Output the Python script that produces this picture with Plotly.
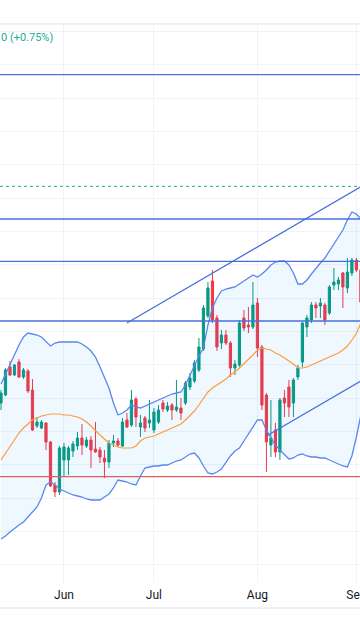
import plotly.graph_objects as go
import pandas as pd

# ---------------- data ----------------
dates = pd.bdate_range("2024-05-14", "2024-09-03").strftime("%Y-%m-%d").tolist()

opens = [2398.5, 2400.9, 2409.3, 2406.9, 2410.8, 2406.3, 2408.1, 2402.4, 2391.6, 2391.0, 2392.5, 2386.8, 2373.9, 2371.8,
         2381.4, 2381.4, 2384.1, 2385.6, 2388.0, 2385.6, 2387.4, 2384.7, 2384.4, 2382.0,
         2380.8, 2386.5, 2387.1, 2385.6, 2393.4, 2391.9, 2399.7, 2391.3, 2394.0, 2392.5,
         2390.4, 2392.8, 2398.5, 2396.4, 2397.9, 2396.4, 2397.0, 2398.5, 2403.3, 2405.1,
         2408.4, 2414.7, 2424.6, 2435.1, 2424.0, 2416.5, 2418.9, 2416.5, 2409.0, 2409.9,
         2424.0, 2421.9, 2421.3, 2428.5, 2415.3, 2400.9, 2385.9, 2390.4, 2383.8, 2400.0,
         2403.3, 2398.5, 2406.3, 2410.8, 2421.3, 2423.4, 2427.9, 2427.6, 2427.9, 2425.5,
         2433.9, 2434.2, 2437.5, 2433.0, 2437.5, 2441.4, 2438.4]
highs = [2402.4, 2409.0, 2411.1, 2410.2, 2411.7, 2409.0, 2408.7, 2405.7, 2394.3, 2393.4, 2392.8, 2387.1, 2374.8, 2385.6,
         2386.5, 2385.6, 2387.1, 2389.8, 2392.2, 2388.3, 2388.6, 2392.8, 2385.3, 2384.4,
         2387.4, 2388.9, 2388.0, 2394.0, 2395.5, 2402.4, 2400.3, 2394.9, 2394.6, 2399.4,
         2397.0, 2397.9, 2399.4, 2398.8, 2398.5, 2405.4, 2400.0, 2405.1, 2407.5, 2411.4,
         2418.0, 2427.9, 2434.8, 2438.4, 2424.9, 2420.4, 2420.4, 2417.1, 2411.4, 2423.4,
         2426.4, 2427.3, 2434.8, 2430.0, 2415.9, 2401.5, 2399.4, 2392.5, 2400.0, 2402.4,
         2405.4, 2406.0, 2409.9, 2422.8, 2424.9, 2428.8, 2428.8, 2430.0, 2428.5, 2433.9,
         2439.0, 2436.3, 2437.8, 2442.0, 2442.0, 2442.0, 2439.0]
lows = [2396.4, 2400.6, 2406.6, 2406.6, 2406.0, 2405.7, 2401.5, 2390.1, 2391.0, 2390.7, 2384.4, 2373.3, 2370.3, 2370.9,
        2376.3, 2376.9, 2382.3, 2384.4, 2382.9, 2385.0, 2379.0, 2383.5, 2380.5, 2376.0,
        2379.0, 2385.3, 2385.3, 2385.3, 2391.0, 2391.3, 2391.3, 2388.3, 2389.8, 2391.0,
        2389.5, 2392.2, 2395.8, 2395.8, 2393.4, 2395.8, 2393.4, 2397.9, 2402.4, 2404.5,
        2407.8, 2414.1, 2424.0, 2422.5, 2414.1, 2414.7, 2415.9, 2406.3, 2406.9, 2409.3,
        2420.1, 2419.5, 2420.7, 2412.3, 2396.4, 2377.8, 2382.3, 2382.3, 2381.4, 2394.3,
        2394.3, 2394.3, 2405.4, 2409.3, 2418.3, 2422.5, 2424.0, 2424.0, 2421.9, 2424.9,
        2432.4, 2432.4, 2427.0, 2431.5, 2436.6, 2437.8, 2427.9]
closes = [2401.5, 2408.4, 2406.9, 2409.9, 2406.3, 2408.4, 2402.1, 2390.4, 2392.8, 2392.8, 2386.8, 2373.6, 2371.8, 2385.0,
          2385.3, 2385.0, 2386.2, 2388.0, 2385.9, 2387.4, 2384.4, 2383.8, 2382.3, 2380.8,
          2386.5, 2387.1, 2385.9, 2392.8, 2391.3, 2399.4, 2394.3, 2392.5, 2391.0, 2393.4,
          2395.8, 2396.4, 2396.7, 2397.6, 2396.4, 2397.3, 2395.5, 2404.5, 2406.0, 2410.5,
          2415.3, 2427.0, 2433.0, 2423.4, 2415.3, 2418.9, 2416.5, 2409.0, 2410.2, 2422.5,
          2421.0, 2421.3, 2427.9, 2415.0, 2397.9, 2386.8, 2388.0, 2383.8, 2399.4, 2398.5,
          2397.3, 2405.4, 2409.0, 2422.5, 2424.0, 2427.9, 2427.0, 2428.5, 2423.4, 2433.3,
          2434.8, 2435.4, 2433.3, 2437.8, 2441.4, 2438.4, 2428.8]

bb_upper = [2404.2, 2407.2, 2409.9, 2412.9, 2415.9, 2418.3, 2419.5, 2419.2, 2418.9, 2418.3, 2416.8, 2415.6, 2416.5, 2416.8,
            2416.8, 2416.8, 2416.8, 2416.8, 2416.2, 2415.3, 2414.1, 2412.3, 2409.3, 2406.3,
            2403.0, 2398.5, 2394.9, 2395.5, 2396.4, 2397.9, 2397.3, 2397.0, 2397.6, 2398.2,
            2398.8, 2399.4, 2400.0, 2400.6, 2401.2, 2401.5, 2401.8, 2403.9, 2406.9, 2409.9,
            2412.6, 2415.0, 2421.9, 2427.0, 2430.0, 2432.1, 2432.7, 2433.0, 2433.3, 2434.2,
            2435.1, 2436.0, 2436.9, 2436.3, 2437.2, 2438.4, 2439.9, 2440.8, 2441.1, 2441.1,
            2439.9, 2437.5, 2434.2, 2434.2, 2435.4, 2437.2, 2439.0, 2440.5, 2442.0, 2444.1,
            2446.2, 2448.3, 2450.4, 2453.4, 2455.8, 2455.2, 2453.7]
bb_lower = [2357.7, 2358.6, 2359.8, 2361.0, 2361.9, 2362.8, 2364.3, 2365.5, 2367.3, 2370.0, 2373.9, 2374.8, 2373.9, 2372.7,
            2372.1, 2371.5, 2370.9, 2370.6, 2370.3, 2369.7, 2369.4, 2369.4, 2369.4, 2370.3,
            2371.2, 2373.0, 2375.4, 2375.1, 2374.8, 2374.2, 2373.9, 2376.6, 2379.0, 2379.3,
            2379.6, 2379.6, 2379.9, 2379.9, 2380.5, 2381.1, 2381.4, 2382.3, 2383.2, 2383.5,
            2382.0, 2379.6, 2377.5, 2377.2, 2377.8, 2378.7, 2380.8, 2382.6, 2384.1, 2385.0,
            2387.1, 2389.2, 2391.6, 2393.4, 2393.4, 2390.4, 2388.0, 2385.9, 2384.4, 2382.9,
            2381.7, 2382.0, 2382.9, 2383.2, 2382.6, 2382.3, 2382.3, 2382.0, 2382.0, 2381.4,
            2380.8, 2380.2, 2379.6, 2379.3, 2382.6, 2388.3, 2394.9]
bb_basis = [2381.4, 2383.5, 2385.6, 2387.7, 2389.5, 2391.0, 2392.2, 2393.4, 2394.0, 2394.6, 2394.9, 2395.2, 2395.2, 2395.2,
            2394.9, 2394.9, 2394.6, 2394.3, 2393.7, 2392.8, 2391.6, 2390.4, 2388.9, 2387.7,
            2386.5, 2385.9, 2385.3, 2385.0, 2385.0, 2385.0, 2385.6, 2387.1, 2388.0, 2388.3,
            2388.6, 2389.2, 2389.8, 2390.4, 2391.0, 2391.6, 2392.2, 2393.4, 2394.6, 2396.1,
            2397.9, 2400.0, 2401.8, 2403.0, 2403.9, 2404.8, 2405.7, 2406.9, 2407.8, 2409.0,
            2410.2, 2411.4, 2412.9, 2414.4, 2415.0, 2414.7, 2414.4, 2413.5, 2412.9, 2412.0,
            2411.1, 2410.2, 2409.0, 2409.0, 2409.3, 2409.9, 2410.5, 2411.1, 2411.7, 2412.3,
            2412.9, 2413.5, 2414.4, 2415.6, 2417.4, 2419.4, 2422.5]

month_ticks = ["2024-06-03", "2024-07-01", "2024-08-01", "2024-09-02"]
month_labels = ["Jun", "Jul", "Aug", "Sep"]

blue_levels = [2497.0, 2453.7, 2441.0, 2423.1]
red_level = 2376.4
dotted_level = 2463.5

channel_top_dates = ["2024-06-21", "2024-09-03"]
channel_top_prices = [2422.5, 2463.4]
channel_bottom_dates = ["2024-08-05", "2024-09-03"]
channel_bottom_prices = [2388.6, 2405.1]

header_text = "0 (+0.75%)"

# ---------------- figure ----------------
pos = {d: k for k, d in enumerate(dates)}
x = list(range(len(dates)))

GREEN = "#089981"
RED = "#f23645"
BAND = "#5b86f0"
LEVEL = "#4a6fdc"

fig = go.Figure()
fig.add_trace(go.Scatter(x=x, y=bb_lower, mode="lines", line=dict(color=BAND, width=1.3),
                         hoverinfo="skip", showlegend=False))
fig.add_trace(go.Scatter(x=x, y=bb_upper, mode="lines", line=dict(color=BAND, width=1.3),
                         fill="tonexty", fillcolor="rgba(33,150,243,0.07)",
                         hoverinfo="skip", showlegend=False))
fig.add_trace(go.Scatter(x=x, y=bb_basis, mode="lines", line=dict(color="#ff9a3c", width=1.2),
                         hoverinfo="skip", showlegend=False))
fig.add_trace(go.Candlestick(
    x=x, open=opens, high=highs, low=lows, close=closes,
    increasing=dict(line=dict(color=GREEN, width=1), fillcolor=GREEN),
    decreasing=dict(line=dict(color=RED, width=1), fillcolor=RED),
    whiskerwidth=0, hoverinfo="skip", showlegend=False))

shapes = []
for lv in blue_levels:
    shapes.append(dict(type="line", xref="paper", x0=0, x1=1, yref="y", y0=lv, y1=lv,
                       line=dict(color=LEVEL, width=1.3)))
shapes.append(dict(type="line", xref="paper", x0=0, x1=1, yref="y", y0=red_level, y1=red_level,
                   line=dict(color="#d9605f", width=1.3)))
shapes.append(dict(type="line", xref="paper", x0=0, x1=1, yref="y", y0=dotted_level, y1=dotted_level,
                   line=dict(color="#26a69a", width=1, dash="dot")))
shapes.append(dict(type="line", xref="x", yref="y",
                   x0=pos[channel_top_dates[0]], x1=pos[channel_top_dates[1]],
                   y0=channel_top_prices[0], y1=channel_top_prices[1],
                   line=dict(color=LEVEL, width=1.3)))
shapes.append(dict(type="line", xref="x", yref="y",
                   x0=pos[channel_bottom_dates[0]], x1=pos[channel_bottom_dates[1]],
                   y0=channel_bottom_prices[0], y1=channel_bottom_prices[1],
                   line=dict(color=LEVEL, width=1.3)))
# pane separators
shapes.append(dict(type="line", xref="paper", x0=0, x1=1, yref="paper", y0=1, y1=1,
                   line=dict(color="#e0e3eb", width=1)))
shapes.append(dict(type="line", xref="paper", x0=0, x1=1, yref="paper", y0=-0.0447, y1=-0.0447,
                   line=dict(color="#e0e3eb", width=1)))

fig.update_layout(
    width=360, height=640,
    margin=dict(l=0, r=0, t=24, b=57, autoexpand=False),
    paper_bgcolor="white", plot_bgcolor="white",
    shapes=shapes,
    showlegend=False,
    font=dict(family="Roboto, 'Noto Sans', sans-serif", color="#131722", size=12),
    annotations=[dict(text=header_text, xref="paper", yref="paper", x=0, y=0.975,
                      xanchor="left", yanchor="middle", xshift=-1, showarrow=False,
                      font=dict(color="#22ab94", size=11))],
    hovermode=False,
)
fig.update_xaxes(
    range=[-0.22, 79.8], tickvals=[pos[d] for d in month_ticks], ticktext=month_labels,
    showgrid=True, gridcolor="#f0f3fa", gridwidth=1, zeroline=False, showline=False,
    ticks="", ticklabelstandoff=3, ticklabeloverflow="allow", automargin=False,
    tickfont=dict(size=12, color="#131722"), rangeslider=dict(visible=False),
    fixedrange=True,
)
fig.update_yaxes(
    range=[2344.5, 2512.2], dtick=10, tick0=0, showticklabels=False, automargin=False,
    showgrid=True, gridcolor="#f0f3fa", gridwidth=1, zeroline=False, showline=False,
    fixedrange=True,
)

fig.write_html("out.html", config={"displayModeBar": False},
               post_script="document.body.style.margin='0';")
